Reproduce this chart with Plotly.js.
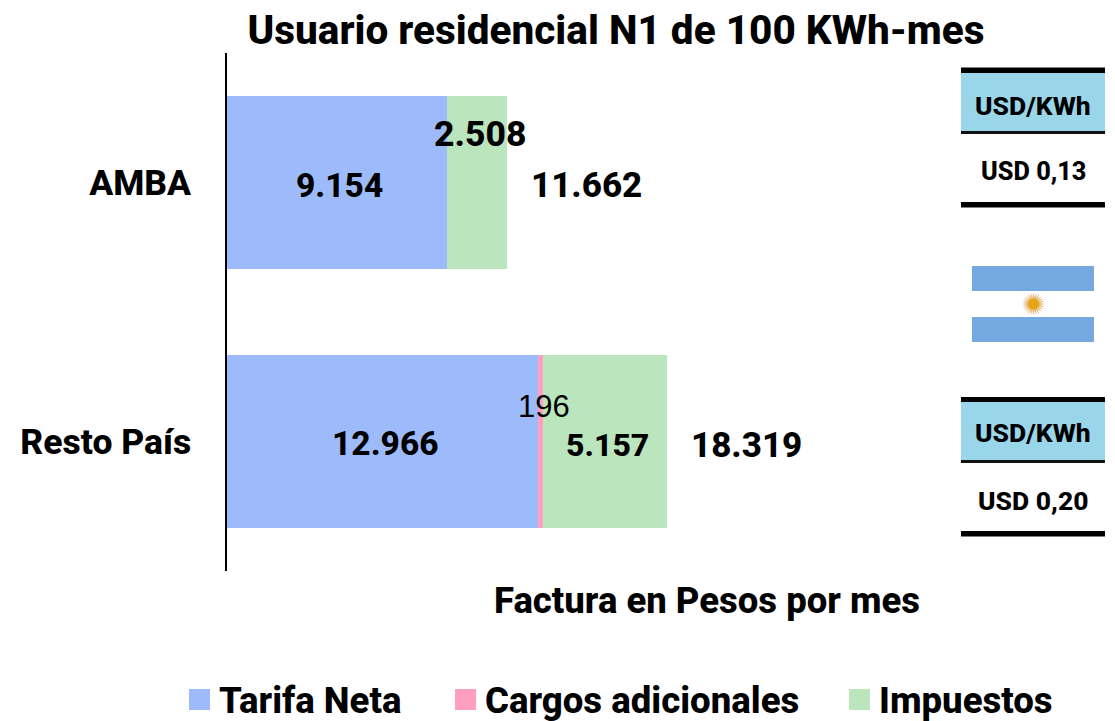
<!DOCTYPE html>
<html><head><meta charset="utf-8">
<script src="https://cdn.plot.ly/plotly-3.0.1.min.js"></script>
<style>html,body{margin:0;padding:0;background:#fff}</style></head>
<body><div id="chart" style="width:1115px;height:721px"></div>
<script>
const categories = ["AMBA", "Resto País"];
const tarifaNeta = [9154, 12966];
const cargosAdicionales = [0, 196];
const impuestos = [2508, 5157];
const totales = [11662, 18319];
const usdKwh = ["USD 0,13", "USD 0,20"];
const tableHeader = "USD/KWh";
const seriesNames = ["Tarifa Neta", "Cargos adicionales", "Impuestos"];
const seriesColors = ["#9DBBFB", "#FF9EBF", "#BBE5BD"];
const chartTitle = "Usuario residencial N1 de 100 KWh-mes";
const axisCaption = "Factura en Pesos por mes";

const W = 1115, H = 721;
const F = "Roboto, sans-serif";
const M = {l:227, r:168, t:53, b:150};
const px = x => (x - M.l) / (W - M.l - M.r);
const py = y => 1 - (y - M.t) / (H - M.t - M.b);
const fmt = v => String(v).replace(/\B(?=(\d{3})+$)/g, ".");

const traces = [tarifaNeta, cargosAdicionales, impuestos].map((vals, i) => ({
  type: "bar", orientation: "h", y: categories, x: vals, name: seriesNames[i],
  marker: {color: seriesColors[i], line: {width: 0}}, hoverinfo: "x+name"
}));

function label(x, y, v, xshift, yshift, size, weight, family) {
  return {xref:"x", yref:"y", x, y, text: fmt(v), showarrow:false, xanchor:"center", yanchor:"middle",
    xshift, yshift, font:{family: family || F, size, color:"#000", weight: weight || 800}};
}
const annotations = [];
categories.forEach((c, i) => {
  const a = tarifaNeta[i], b = cargosAdicionales[i], d = impuestos[i];
  annotations.push(label(a/2, c, a, 3, i ? -2 : -2.5, 33.5));
  annotations.push(i ? label(a+b+d/2, c, d, 3, -3.5, 32) : label(a+b+d/2, c, d, 3, 49, 35.5));
  if (b) annotations.push(label(a+b/2, c, b, 3, 35.5, 31, 400, "Liberation Sans, sans-serif"));
  annotations.push(label(a+b+d, c, totales[i], 80, i ? -3.5 : -2.5, 35));
});
function pixelText(x, y, text, size, anchor) {
  return {xref:"paper", yref:"paper", x:px(x), y:py(y), text, showarrow:false, xanchor:anchor || "center", yanchor:"middle",
    font:{family:F, size, color:"#000", weight:800}};
}
annotations.push(pixelText(707, 600, axisCaption, 36.5));
annotations.push(pixelText(1033, 105, tableHeader, 26.5));
annotations.push(pixelText(1033, 171, usdKwh[0], 25.3));
annotations.push(pixelText(1033, 432, tableHeader, 26.5));
annotations.push(pixelText(1033, 500, usdKwh[1], 26.5));

function rect(x0, y0, x1, y1, color) {
  return {type:"rect", xref:"paper", yref:"paper", x0:px(x0), x1:px(x1), y0:py(y0), y1:py(y1),
    fillcolor:color, line:{width:0}, layer:"below"};
}
function circle(cx, cy, r, color) {
  return {type:"circle", xref:"paper", yref:"paper", x0:px(cx-r), x1:px(cx+r), y0:py(cy-r), y1:py(cy+r),
    fillcolor:color, line:{width:0}, layer:"above"};
}
let rays = "";
for (let k = 0; k < 24; k++) {
  const t = k * Math.PI / 12, cx = 1033.5, cy = 304;
  rays += `M${px(cx + 5*Math.cos(t))},${py(cy + 5*Math.sin(t))}L${px(cx + 10.5*Math.cos(t))},${py(cy + 10.5*Math.sin(t))}`;
}
const shapes = [
  rect(961,73,1105,131,"#99D6EA"), rect(961,67.5,1105,73,"#000"), rect(961,131,1105,134,"#111"), rect(961,202,1105,207.5,"#000"),
  rect(961,402,1105,460,"#99D6EA"), rect(961,397,1105,402,"#000"), rect(961,460,1105,463,"#111"), rect(961,531,1105,536.5,"#000"),
  rect(972,266,1094,291,"#74A9DF"), rect(972,317,1094,342,"#74A9DF"),
  circle(1033.5,304,8.5,"#F4E0BC"),
  {type:"path", xref:"paper", yref:"paper", path:rays, line:{color:"#DDAA66", width:0.8}, layer:"above"},
  circle(1033.5,304,5.8,"#E8A317")
];
const legendLeft = [189, 455, 849];
seriesNames.forEach((n, i) => {
  shapes.push(rect(legendLeft[i], 689, legendLeft[i]+21, 710, seriesColors[i]));
  annotations.push(pixelText(legendLeft[i]+28, 700, n, 36.6, "left"));
});

const layout = {
  width:W, height:H, margin:M, paper_bgcolor:"#fff", plot_bgcolor:"rgba(0,0,0,0)",
  barmode:"stack", bargap:0.332,
  title:{text:chartTitle, x:616/W, xref:"container", xanchor:"center", y:1-30/H, yanchor:"middle",
    font:{family:F, size:40.5, color:"#000", weight:800}},
  xaxis:{range:[0,30000], showticklabels:false, showgrid:false, zeroline:false, showline:false, ticks:""},
  yaxis:{type:"category", categoryorder:"array", categoryarray:categories, autorange:"reversed",
    showgrid:false, zeroline:false, showline:true, linecolor:"#000", linewidth:1.5, ticks:"", ticklabelstandoff:27,
    tickfont:{family:F, size:35.5, color:"#000", weight:800}},
  annotations, shapes, showlegend:false
};
Plotly.newPlot("chart", traces, layout, {displayModeBar:false});
</script></body></html>
